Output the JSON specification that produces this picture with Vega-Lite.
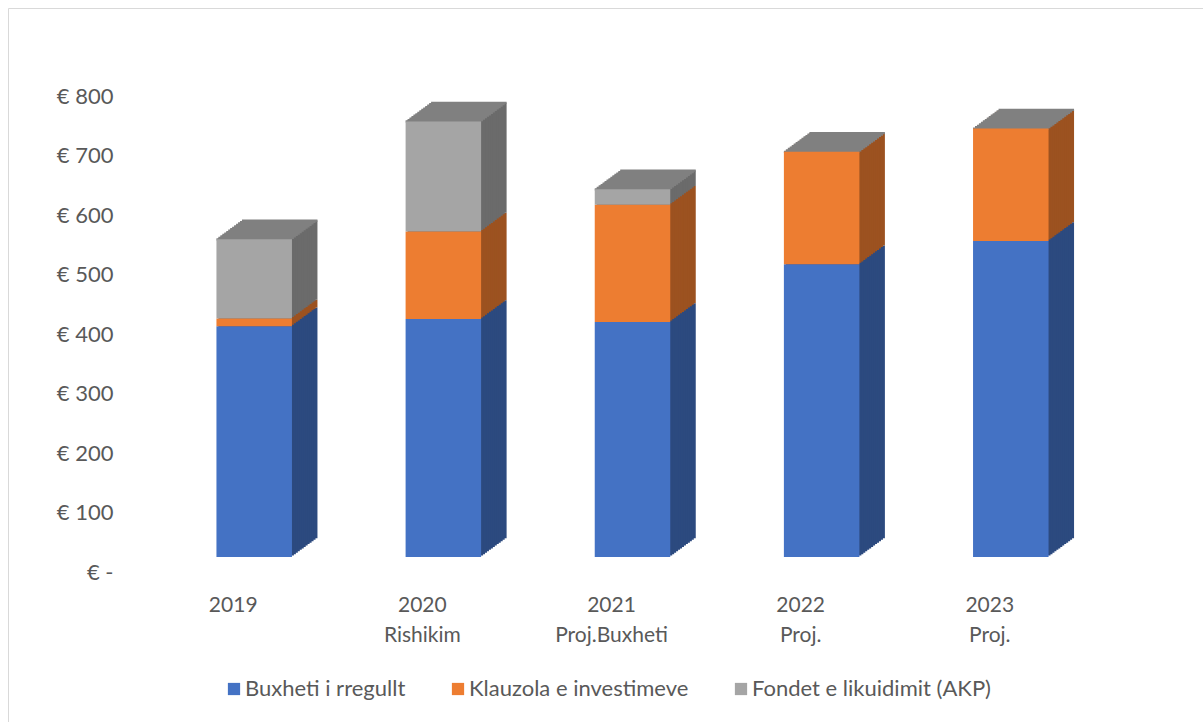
{
  "$schema": "https://vega.github.io/schema/vega-lite/v6.json",
  "width": 1195,
  "height": 714,
  "autosize": {"type": "none"},
  "padding": {"left": 8, "top": 8, "right": 0, "bottom": 0},
  "background": "white",
  "config": {"view": {"stroke": "#d9d9d9", "strokeWidth": 1}, "font": "Lato"},
  "data": {"values": [
    {"year": "2019", "series": "Buxheti i rregullt", "value": 388},
    {"year": "2019", "series": "Klauzola e investimeve", "value": 13},
    {"year": "2019", "series": "Fondet e likuidimit (AKP)", "value": 133},
    {"year": "2020 Rishikim", "series": "Buxheti i rregullt", "value": 400},
    {"year": "2020 Rishikim", "series": "Klauzola e investimeve", "value": 147},
    {"year": "2020 Rishikim", "series": "Fondet e likuidimit (AKP)", "value": 185},
    {"year": "2021 Proj.Buxheti", "series": "Buxheti i rregullt", "value": 395},
    {"year": "2021 Proj.Buxheti", "series": "Klauzola e investimeve", "value": 197},
    {"year": "2021 Proj.Buxheti", "series": "Fondet e likuidimit (AKP)", "value": 26},
    {"year": "2022 Proj.", "series": "Buxheti i rregullt", "value": 492},
    {"year": "2022 Proj.", "series": "Klauzola e investimeve", "value": 189},
    {"year": "2022 Proj.", "series": "Fondet e likuidimit (AKP)", "value": 0},
    {"year": "2023 Proj.", "series": "Buxheti i rregullt", "value": 531},
    {"year": "2023 Proj.", "series": "Klauzola e investimeve", "value": 189},
    {"year": "2023 Proj.", "series": "Fondet e likuidimit (AKP)", "value": 0}
  ]},
  "transform": [
    {"calculate": "indexof(['Buxheti i rregullt','Klauzola e investimeve','Fondet e likuidimit (AKP)'], datum.series)", "as": "ord"}
  ],
  "encoding": {
    "x": {
      "field": "year", "type": "nominal", "sort": null,
      "scale": {"paddingInner": 0.6008, "paddingOuter": 0.9593, "align": 0.5744},
      "axis": {
        "labelExpr": "split(datum.label, ' ')",
        "labelAngle": 0, "labelAlign": "center", "labelBaseline": "top",
        "labelLineHeight": 30, "labelPadding": 0, "offset": -128, "labelOffset": -21,
        "ticks": false, "domain": false, "grid": false, "title": null,
        "labelFontSize": 21, "labelColor": "#595959", "labelFont": "Lato"
      }
    },
    "y": {
      "field": "value", "type": "quantitative", "stack": "zero",
      "scale": {"domain": [-277.3, 922.7], "nice": false, "zero": false},
      "axis": {
        "values": [0, 100, 200, 300, 400, 500, 600, 700, 800],
        "format": "d",
        "labelExpr": "datum.value == 0 ? '€ -   ' : '€ ' + datum.label",
        "labelAlign": "right", "labelBaseline": "middle", "labelPadding": -105, "labelOffset": 15,
        "ticks": false, "domain": false, "grid": false, "title": null,
        "labelFontSize": 22, "labelColor": "#595959", "labelFont": "Lato"
      }
    },
    "order": {"field": "ord", "type": "quantitative"}
  },
  "layer": [
    {"mark": {"type": "bar", "xOffset": 25.5, "x2Offset": 25.5, "yOffset": -18.7, "y2Offset": -18.7},
     "encoding": {"fill": {"field": "series", "type": "nominal", "scale": {"domain": ["Fondet e likuidimit (AKP)", "Klauzola e investimeve", "Buxheti i rregullt"], "range": ["#6b6b6b", "#9c5220", "#2c4a7f"]}, "legend": null}}},
    {"mark": {"type": "bar", "xOffset": 23.54, "x2Offset": 23.54, "yOffset": -17.26, "y2Offset": -17.26},
     "encoding": {"fill": {"field": "series", "type": "nominal", "legend": null}}},
    {"mark": {"type": "bar", "xOffset": 21.58, "x2Offset": 21.58, "yOffset": -15.82, "y2Offset": -15.82},
     "encoding": {"fill": {"field": "series", "type": "nominal", "legend": null}}},
    {"mark": {"type": "bar", "xOffset": 19.62, "x2Offset": 19.62, "yOffset": -14.38, "y2Offset": -14.38},
     "encoding": {"fill": {"field": "series", "type": "nominal", "legend": null}}},
    {"mark": {"type": "bar", "xOffset": 17.65, "x2Offset": 17.65, "yOffset": -12.95, "y2Offset": -12.95},
     "encoding": {"fill": {"field": "series", "type": "nominal", "legend": null}}},
    {"mark": {"type": "bar", "xOffset": 15.69, "x2Offset": 15.69, "yOffset": -11.51, "y2Offset": -11.51},
     "encoding": {"fill": {"field": "series", "type": "nominal", "legend": null}}},
    {"mark": {"type": "bar", "xOffset": 13.73, "x2Offset": 13.73, "yOffset": -10.07, "y2Offset": -10.07},
     "encoding": {"fill": {"field": "series", "type": "nominal", "legend": null}}},
    {"mark": {"type": "bar", "xOffset": 11.77, "x2Offset": 11.77, "yOffset": -8.63, "y2Offset": -8.63},
     "encoding": {"fill": {"field": "series", "type": "nominal", "legend": null}}},
    {"mark": {"type": "bar", "xOffset": 9.81, "x2Offset": 9.81, "yOffset": -7.19, "y2Offset": -7.19},
     "encoding": {"fill": {"field": "series", "type": "nominal", "legend": null}}},
    {"mark": {"type": "bar", "xOffset": 7.85, "x2Offset": 7.85, "yOffset": -5.75, "y2Offset": -5.75},
     "encoding": {"fill": {"field": "series", "type": "nominal", "legend": null}}},
    {"mark": {"type": "bar", "xOffset": 5.88, "x2Offset": 5.88, "yOffset": -4.32, "y2Offset": -4.32},
     "encoding": {"fill": {"field": "series", "type": "nominal", "legend": null}}},
    {"mark": {"type": "bar", "xOffset": 3.92, "x2Offset": 3.92, "yOffset": -2.88, "y2Offset": -2.88},
     "encoding": {"fill": {"field": "series", "type": "nominal", "legend": null}}},
    {"mark": {"type": "bar", "xOffset": 1.96, "x2Offset": 1.96, "yOffset": -1.44, "y2Offset": -1.44},
     "encoding": {"fill": {"field": "series", "type": "nominal", "legend": null}}},

    {"transform": [{"aggregate": [{"op": "sum", "field": "value", "as": "total"}], "groupby": ["year"]}],
     "layer": [
       {"mark": {"type": "bar", "fill": "#808080", "stroke": "#808080", "strokeWidth": 2.2, "xOffset": 25.5, "x2Offset": 25.5, "yOffset": -18.7, "y2Offset": -18.7}},
       {"mark": {"type": "bar", "fill": "#808080", "stroke": "#808080", "strokeWidth": 2.2, "xOffset": 23.54, "x2Offset": 23.54, "yOffset": -17.26, "y2Offset": -17.26}},
       {"mark": {"type": "bar", "fill": "#808080", "stroke": "#808080", "strokeWidth": 2.2, "xOffset": 21.58, "x2Offset": 21.58, "yOffset": -15.82, "y2Offset": -15.82}},
       {"mark": {"type": "bar", "fill": "#808080", "stroke": "#808080", "strokeWidth": 2.2, "xOffset": 19.62, "x2Offset": 19.62, "yOffset": -14.38, "y2Offset": -14.38}},
       {"mark": {"type": "bar", "fill": "#808080", "stroke": "#808080", "strokeWidth": 2.2, "xOffset": 17.65, "x2Offset": 17.65, "yOffset": -12.95, "y2Offset": -12.95}},
       {"mark": {"type": "bar", "fill": "#808080", "stroke": "#808080", "strokeWidth": 2.2, "xOffset": 15.69, "x2Offset": 15.69, "yOffset": -11.51, "y2Offset": -11.51}},
       {"mark": {"type": "bar", "fill": "#808080", "stroke": "#808080", "strokeWidth": 2.2, "xOffset": 13.73, "x2Offset": 13.73, "yOffset": -10.07, "y2Offset": -10.07}},
       {"mark": {"type": "bar", "fill": "#808080", "stroke": "#808080", "strokeWidth": 2.2, "xOffset": 11.77, "x2Offset": 11.77, "yOffset": -8.63, "y2Offset": -8.63}},
       {"mark": {"type": "bar", "fill": "#808080", "stroke": "#808080", "strokeWidth": 2.2, "xOffset": 9.81, "x2Offset": 9.81, "yOffset": -7.19, "y2Offset": -7.19}},
       {"mark": {"type": "bar", "fill": "#808080", "stroke": "#808080", "strokeWidth": 2.2, "xOffset": 7.85, "x2Offset": 7.85, "yOffset": -5.75, "y2Offset": -5.75}},
       {"mark": {"type": "bar", "fill": "#808080", "stroke": "#808080", "strokeWidth": 2.2, "xOffset": 5.88, "x2Offset": 5.88, "yOffset": -4.32, "y2Offset": -4.32}},
       {"mark": {"type": "bar", "fill": "#808080", "stroke": "#808080", "strokeWidth": 2.2, "xOffset": 3.92, "x2Offset": 3.92, "yOffset": -2.88, "y2Offset": -2.88}},
       {"mark": {"type": "bar", "fill": "#808080", "stroke": "#808080", "strokeWidth": 2.2, "xOffset": 1.96, "x2Offset": 1.96, "yOffset": -1.44, "y2Offset": -1.44}},
       {"mark": {"type": "bar", "fill": "#808080", "stroke": "#808080", "strokeWidth": 2.2}}
     ],
     "encoding": {
       "y": {"field": "total", "type": "quantitative", "stack": null,
         "scale": {"domain": [-277.3, 922.7], "nice": false, "zero": false},
         "axis": {
           "values": [0, 100, 200, 300, 400, 500, 600, 700, 800],
           "format": "d",
           "labelExpr": "datum.value == 0 ? '€ -   ' : '€ ' + datum.label",
           "labelAlign": "right", "labelBaseline": "middle", "labelPadding": -105, "labelOffset": 15,
           "ticks": false, "domain": false, "grid": false, "title": null,
           "labelFontSize": 22, "labelColor": "#595959", "labelFont": "Lato"
         }},
       "y2": {"field": "total"},
       "order": {"value": 0}
     }},

    {"mark": {"type": "bar"},
     "encoding": {"color": {"field": "series", "type": "nominal",
       "scale": {"domain": ["Buxheti i rregullt", "Klauzola e investimeve", "Fondet e likuidimit (AKP)"], "range": ["#4472C4", "#ED7D31", "#A5A5A5"]},
       "legend": {"orient": "none", "legendX": 215, "legendY": 670, "direction": "horizontal", "title": null,
         "symbolType": "square", "symbolSize": 150, "symbolStrokeWidth": 0, "labelLimit": 0,
         "labelFontSize": 22, "labelColor": "#595959", "labelFont": "Lato", "labelOffset": 0, "columnPadding": 41}}}}
  ]
}
